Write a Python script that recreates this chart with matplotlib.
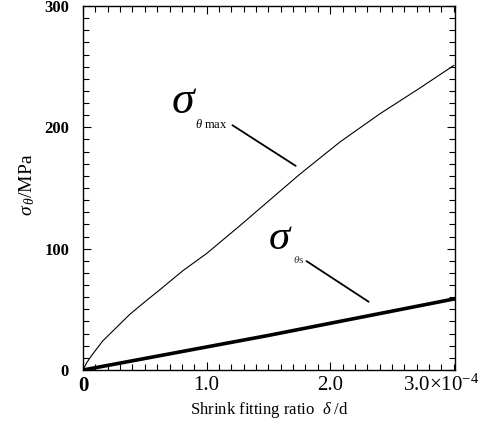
import numpy as np
import matplotlib.pyplot as plt
from matplotlib.ticker import MultipleLocator
import matplotlib.transforms as mtransforms

plt.rcParams["font.family"] = ["Liberation Serif", "DejaVu Serif"]
plt.rcParams["mathtext.fontset"] = "custom"
plt.rcParams["mathtext.rm"] = "Liberation Serif"
plt.rcParams["mathtext.it"] = "Liberation Serif:italic"

# shrink fitting ratio (x 1e-4) vs hoop stress (MPa)
ratio_max = [0.0, 0.03, 0.07, 0.16, 0.27, 0.38, 0.51, 0.62, 0.81, 1.0, 1.27,
             1.51, 1.75, 2.08, 2.40, 2.72, 3.0]
sigma_max = [0.0, 6, 12, 24, 35, 46, 57, 66, 82, 96, 119,
             140, 161, 188, 211, 232, 251]

ratio_s = [0.0, 0.5, 1.0, 1.5, 2.0, 2.5, 3.0]
sigma_s = [0.0, 9.5, 19, 28.5, 38.5, 48.5, 58.5]

x_ticks = [0, 1, 2]
x_ticklabels = ["0", "1.0", "2.0"]
y_ticks = [0, 100, 200, 300]

fig = plt.figure(figsize=(4.86, 4.32), dpi=100)
ax = fig.add_axes([0.1708, 0.1435, 0.7654, 0.8426])

ax.plot(ratio_max, sigma_max, color="black", lw=0.8)
ax.plot(ratio_s, sigma_s, color="black", lw=2.6)

ax.set_xlim(0, 3.01)
ax.set_ylim(0, 300)

ax.xaxis.set_minor_locator(MultipleLocator(0.1))
ax.yaxis.set_minor_locator(MultipleLocator(10))
ax.set_xticks(x_ticks)
ax.set_xticklabels(x_ticklabels, fontsize=15)
ax.get_xticklabels()[0].set_fontweight("bold")
ax.set_yticks(y_ticks)
ax.set_yticklabels([str(v) for v in y_ticks], fontsize=12, fontweight="bold")
ax.tick_params(which="both", direction="in", top=True, right=True, width=0.8)
ax.tick_params(which="major", length=6)
ax.tick_params(which="minor", length=4)
ax.tick_params(axis="x", pad=4)
ax.tick_params(axis="y", pad=10)
for s in ax.spines.values():
    s.set_linewidth(1.0)

# x = 3.0 label with multiplier
trans = mtransforms.blended_transform_factory(ax.transData, ax.transAxes)
ax.text(2.59, -0.013, r"3.0$\times$10$^{-4}$", transform=trans, fontsize=15,
        ha="left", va="top")

ax.set_xlabel(r"Shrink fitting ratio  $\delta$ /d", fontsize=12, labelpad=3)
ax.set_ylabel(r"$\sigma_{\,\theta}$/MPa", fontsize=14)
ax.yaxis.set_label_coords(-0.125, 0.51)

# curve labels
ax.text(0.82, 221, r"$\sigma$", fontsize=33, ha="center", va="center")
ax.text(0.905, 202, r"$\theta$ max", fontsize=9, ha="left", va="center")
ax.annotate("", xy=(1.74, 167), xytext=(1.19, 203),
            arrowprops=dict(arrowstyle="-", lw=1.3, color="black"))

ax.text(1.60, 108, r"$\sigma$", fontsize=31, ha="center", va="center")
ax.text(1.70, 91, r"$\theta$s", fontsize=8, ha="left", va="center", alpha=0.8)
ax.annotate("", xy=(2.33, 55), xytext=(1.79, 91),
            arrowprops=dict(arrowstyle="-", lw=1.3, color="black"))

fig.savefig("out.png", dpi=100)
